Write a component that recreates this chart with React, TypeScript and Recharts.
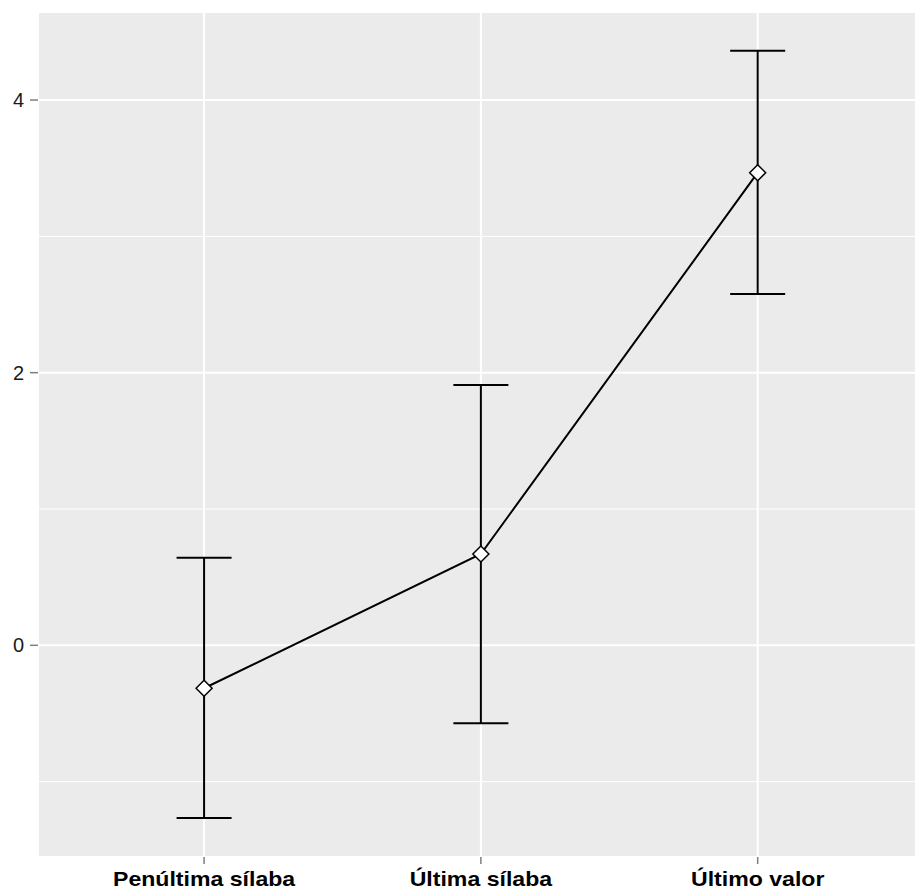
import React from "react";
import {
  ComposedChart,
  Line,
  XAxis,
  YAxis,
  CartesianGrid,
  ReferenceLine,
  ErrorBar,
} from "recharts";

const categories = ["Penúltima sílaba", "Última sílaba", "Último valor"];
const means = [-0.315, 0.67, 3.467];
const upper = [0.643, 1.91, 4.362];
const lower = [-1.267, -0.572, 2.577];
const yTicks = [0, 2, 4];
const yMinorTicks = [-1, 1, 3];
const xTicks = [0, 1, 2];

const data = categories.map((name, i) => ({
  x: i,
  name,
  mean: means[i],
  err: [means[i] - lower[i], upper[i] - means[i]],
}));

const Diamond = (props: any) => {
  const { cx, cy } = props;
  if (cx == null || cy == null) return null;
  const r = 8;
  return (
    <path
      d={`M${cx},${cy - r} L${cx + r},${cy} L${cx},${cy + r} L${cx - r},${cy} Z`}
      fill="#ffffff"
      stroke="#000000"
      strokeWidth={1.5}
    />
  );
};

const XTick = (props: any) => {
  const { x, y, payload } = props;
  const label = categories[payload.value];
  return (
    <text
      transform={`translate(${x},${y + 20}) scale(1.155,1)`}
      textAnchor="middle"
      fontFamily="'Liberation Sans', Arial, sans-serif"
      fontWeight="bold"
      fontSize={20}
      fill="#000"
    >
      {label}
    </text>
  );
};

export default function App() {
  return (
    <div style={{ position: "absolute", left: 0, top: 0, background: "#fff" }}>
      <ComposedChart
        width={916}
        height={896}
        data={data}
        margin={{ top: 12, right: 0, left: 0, bottom: 0 }}
      >
        <CartesianGrid
          fill="#EBEBEB"
          stroke="#ffffff"
          strokeWidth={2}
          fillOpacity={1}
        />
        {yMinorTicks.map((v) => (
          <ReferenceLine key={v} y={v} stroke="#ffffff" strokeWidth={1} />
        ))}
        <XAxis
          dataKey="x"
          type="number"
          domain={[-0.6, 2.572]}
          allowDataOverflow
          ticks={xTicks}
          interval={0}
          height={39}
          tickSize={7}
          tickMargin={2}
          axisLine={false}
          tickLine={{ stroke: "#7f7f7f", strokeWidth: 1.5 }}
          tick={<XTick />}
        />
        <YAxis
          type="number"
          domain={[-1.553, 4.646]}
          allowDataOverflow
          ticks={yTicks}
          interval={0}
          width={38}
          tickSize={8}
          tickMargin={6}
          axisLine={false}
          tickLine={{ stroke: "#7f7f7f", strokeWidth: 1.5 }}
          tick={{
            fill: "#1a1a1a",
            fontSize: 20,
            fontFamily: "'Liberation Sans', Arial, sans-serif",
          }}
        />
        <Line
          dataKey="mean"
          type="linear"
          stroke="#000000"
          strokeWidth={2}
          dot={<Diamond />}
          activeDot={false}
          isAnimationActive={false}
        />
        <Line
          dataKey="mean"
          type="linear"
          stroke="none"
          dot={false}
          activeDot={false}
          isAnimationActive={false}
        >
          <ErrorBar
            dataKey="err"
            direction="y"
            width={27.5}
            stroke="#000000"
            strokeWidth={2}
          />
        </Line>
      </ComposedChart>
    </div>
  );
}
